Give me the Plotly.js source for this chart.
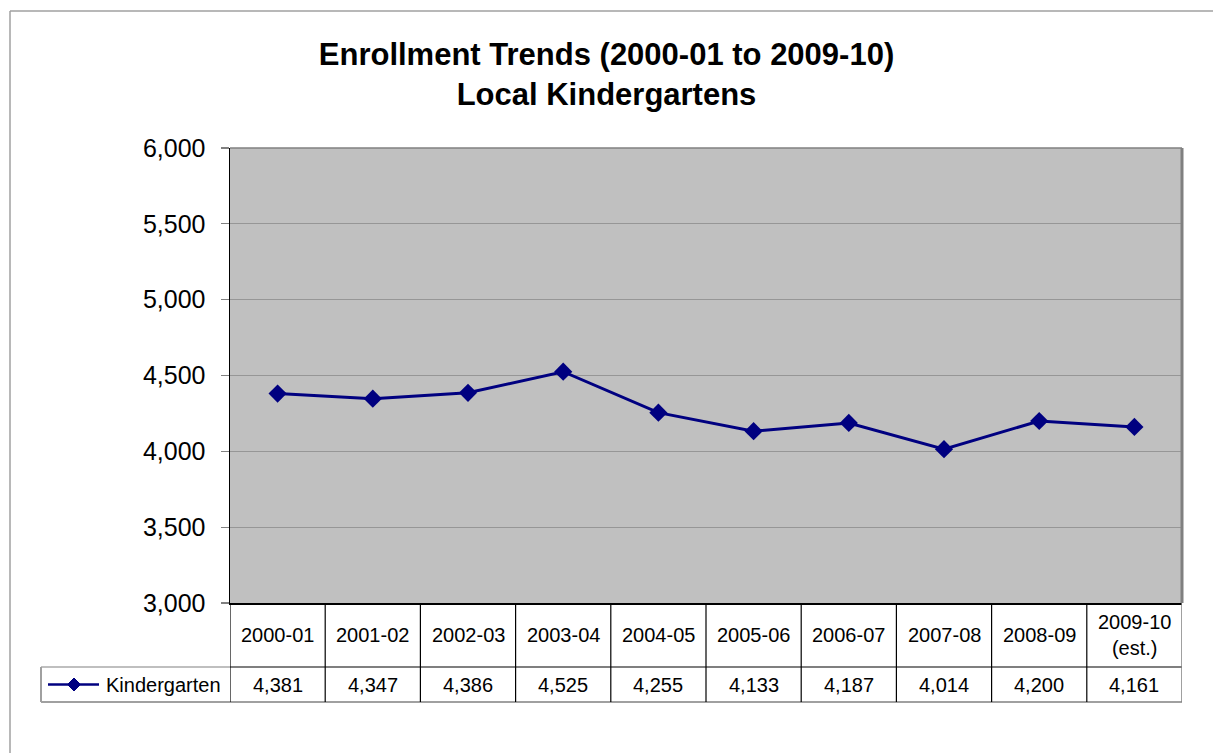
<!DOCTYPE html>
<html>
<head>
<meta charset="utf-8">
<script src="https://cdn.plot.ly/plotly-3.0.1.min.js"></script>
<style>
html,body{margin:0;padding:0;background:#fff;}
#chart{width:1213px;height:753px;}
</style>
</head>
<body>
<div id="chart"></div>
<script>
// ---- data ----
const categories = ["2000-01","2001-02","2002-03","2003-04","2004-05","2005-06","2006-07","2007-08","2008-09","2009-10 (est.)"];
const categoryLabels = ["2000-01","2001-02","2002-03","2003-04","2004-05","2005-06","2006-07","2007-08","2008-09","2009-10<br>(est.)"];
const kindergarten = [4381,4347,4386,4525,4255,4133,4187,4014,4200,4161];
const seriesName = "Kindergarten";
const yTicks = [3000,3500,4000,4500,5000,5500,6000];

// ---- layout geometry (pixels) ----
const W = 1213, H = 753;
const L = 230, R = 1182, T = 148, B = 603;
const pw = R - L, ph = B - T;
const px = x => (x - L) / pw;
const py = y => (B - y) / ph;
const FONT = "Arial, 'Liberation Sans', sans-serif";
const NAVY = "#000080";

const shapes = [];
const annotations = [];

// outer chart border
shapes.push({type:"line", xref:"paper", yref:"paper", x0:px(10), x1:px(W+5), y0:py(11), y1:py(11), line:{color:"#a0a0a0", width:1.5}});
shapes.push({type:"line", xref:"paper", yref:"paper", x0:px(10), x1:px(10), y0:py(11), y1:py(H+5), line:{color:"#a0a0a0", width:1.5}});

// plot area top/right borders
shapes.push({type:"line", xref:"paper", yref:"paper", x0:0, x1:1, y0:1, y1:1, line:{color:"#808080", width:1.5}});
shapes.push({type:"line", xref:"paper", yref:"paper", x0:1, x1:1, y0:0, y1:1, line:{color:"#808080", width:3}});

// data table lines
const rowTop = 603, rowMid = 667, rowBot = 702, legLeft = 41;
shapes.push({type:"line", xref:"paper", yref:"paper", x0:px(legLeft), x1:0, y0:py(rowMid), y1:py(rowMid), line:{color:"#808080", width:1.2}});
shapes.push({type:"line", xref:"paper", yref:"paper", x0:0, x1:1, y0:py(rowMid), y1:py(rowMid), line:{color:"#000000", width:1.2}});
shapes.push({type:"line", xref:"paper", yref:"paper", x0:px(legLeft), x1:1, y0:py(rowBot), y1:py(rowBot), line:{color:"#a0a0a0", width:2}});
shapes.push({type:"line", xref:"paper", yref:"paper", x0:px(legLeft), x1:px(legLeft), y0:py(rowMid), y1:py(rowBot), line:{color:"#a0a0a0", width:2}});
for (let k = 0; k <= categories.length; k++) {
  const last = k === categories.length;
  shapes.push({type:"line", xref:"x", yref:"paper", x0:k-0.5, x1:k-0.5, y0:py(rowTop), y1:py(rowBot),
    line:{color: last ? "#808080" : "#000000", width: last ? 1.5 : 1.2}});
}

// category labels & values
categories.forEach((c, i) => {
  annotations.push({xref:"x", yref:"paper", x:c, y:py((rowTop+rowMid)/2), text:categoryLabels[i],
    showarrow:false, xanchor:"center", yanchor:"middle", font:{family:FONT, size:20, color:"#000"}});
  annotations.push({xref:"x", yref:"paper", x:c, y:py((rowMid+rowBot)/2), text:kindergarten[i].toLocaleString("en-US"),
    showarrow:false, xanchor:"center", yanchor:"middle", font:{family:FONT, size:20, color:"#000"}});
});

// legend key
const ky = (rowMid+rowBot)/2;
shapes.push({type:"line", xref:"paper", yref:"paper", x0:px(48), x1:px(99), y0:py(ky), y1:py(ky), line:{color:NAVY, width:2.5}});
const d = 6.5, cx = 74;
shapes.push({type:"path", xref:"paper", yref:"paper",
  path:`M ${px(cx-d)} ${py(ky)} L ${px(cx)} ${py(ky-d)} L ${px(cx+d)} ${py(ky)} L ${px(cx)} ${py(ky+d)} Z`,
  fillcolor:NAVY, line:{color:NAVY, width:1}});
annotations.push({xref:"paper", yref:"paper", x:px(104), y:py(ky), text:seriesName, showarrow:false,
  xanchor:"left", yanchor:"middle", font:{family:FONT, size:20, color:"#000"}});

const trace = {
  type:"scatter", mode:"lines+markers", x:categories, y:kindergarten, name:seriesName,
  line:{color:NAVY, width:3}, marker:{symbol:"diamond", size:14, color:NAVY}, cliponaxis:false,
  hoverinfo:"x+y"
};

const layout = {
  width:W, height:H,
  margin:{l:L, r:W-R, t:T, b:H-B, pad:0},
  paper_bgcolor:"#ffffff", plot_bgcolor:"#c0c0c0",
  showlegend:false,
  title:{text:"Enrollment Trends (2000-01 to 2009-10)<br>Local Kindergartens",
    font:{family:FONT, size:31, color:"#000", weight:"bold"},
    x:0.5, xref:"container", y:1-65/H, yref:"container", yanchor:"middle", xanchor:"center"},
  xaxis:{type:"category", range:[-0.5, categories.length-0.5], showticklabels:false, ticks:"",
    showgrid:false, zeroline:false, showline:true, linecolor:"#000", linewidth:1.5, fixedrange:true},
  yaxis:{range:[3000,6000], tickvals:yTicks, ticktext:yTicks.map(v=>v.toLocaleString("en-US")),
    ticks:"outside", ticklen:8, tickcolor:"#808080", tickwidth:1.2,
    showgrid:true, gridcolor:"#969696", gridwidth:1.2, zeroline:false,
    showline:true, linecolor:"#000", linewidth:1.5,
    tickfont:{family:FONT, size:25, color:"#000"}, ticklabelstandoff:10, fixedrange:true},
  shapes:shapes, annotations:annotations
};

Plotly.newPlot("chart", [trace], layout, {displayModeBar:false, staticPlot:true});
</script>
</body>
</html>
